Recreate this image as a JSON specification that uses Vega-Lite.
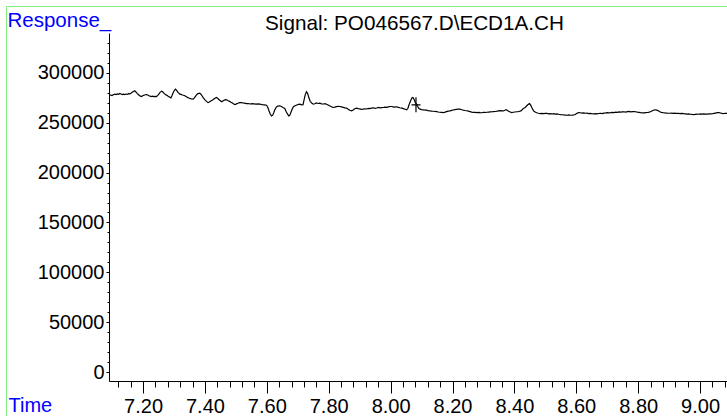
{
  "$schema": "https://vega.github.io/schema/vega-lite/v6.json",
  "width": 618,
  "height": 348,
  "autosize": "none",
  "padding": {"left": 109, "top": 33, "right": 0, "bottom": 35},
  "background": "white",
  "datasets": {
    "sig": [
      {"t":7.090,"v":277500},{"t":7.096,"v":277800},{"t":7.100,"v":277200},{"t":7.104,"v":278000},{"t":7.109,"v":278700},{"t":7.113,"v":278200},{"t":7.117,"v":279000},{"t":7.121,"v":278600},{"t":7.125,"v":279400},{"t":7.129,"v":278900},{"t":7.133,"v":278300},{"t":7.137,"v":278700},{"t":7.141,"v":278300},{"t":7.145,"v":278800},{"t":7.149,"v":278400},{"t":7.153,"v":279200},{"t":7.157,"v":279000},{"t":7.161,"v":279600},{"t":7.165,"v":280500},{"t":7.169,"v":281400},{"t":7.173,"v":282000},{"t":7.177,"v":280900},{"t":7.181,"v":279500},{"t":7.184,"v":278600},{"t":7.188,"v":277400},{"t":7.192,"v":276700},{"t":7.195,"v":276300},{"t":7.199,"v":277000},{"t":7.203,"v":277600},{"t":7.207,"v":278100},{"t":7.211,"v":278300},{"t":7.215,"v":277800},{"t":7.219,"v":277100},{"t":7.223,"v":276700},{"t":7.227,"v":276300},{"t":7.231,"v":276600},{"t":7.235,"v":276200},{"t":7.239,"v":276500},{"t":7.243,"v":276300},{"t":7.247,"v":277200},{"t":7.251,"v":278800},{"t":7.255,"v":280500},{"t":7.260,"v":281700},{"t":7.264,"v":280800},{"t":7.268,"v":279400},{"t":7.272,"v":278400},{"t":7.276,"v":277700},{"t":7.280,"v":276800},{"t":7.285,"v":275900},{"t":7.290,"v":275000},{"t":7.294,"v":277500},{"t":7.298,"v":280500},{"t":7.302,"v":282800},{"t":7.305,"v":283700},{"t":7.309,"v":282300},{"t":7.313,"v":280500},{"t":7.319,"v":278700},{"t":7.323,"v":278400},{"t":7.327,"v":277800},{"t":7.331,"v":277600},{"t":7.335,"v":277000},{"t":7.340,"v":276000},{"t":7.345,"v":275200},{"t":7.350,"v":274600},{"t":7.356,"v":274000},{"t":7.362,"v":273600},{"t":7.366,"v":275000},{"t":7.371,"v":277200},{"t":7.376,"v":279000},{"t":7.383,"v":279700},{"t":7.387,"v":278600},{"t":7.391,"v":276800},{"t":7.395,"v":274900},{"t":7.400,"v":273000},{"t":7.405,"v":271400},{"t":7.410,"v":270200},{"t":7.414,"v":270800},{"t":7.419,"v":271900},{"t":7.426,"v":273000},{"t":7.430,"v":274100},{"t":7.437,"v":275300},{"t":7.441,"v":274500},{"t":7.446,"v":273100},{"t":7.451,"v":271800},{"t":7.454,"v":271000},{"t":7.458,"v":271800},{"t":7.462,"v":272500},{"t":7.466,"v":273200},{"t":7.470,"v":273000},{"t":7.475,"v":272100},{"t":7.480,"v":271400},{"t":7.484,"v":270600},{"t":7.489,"v":269700},{"t":7.493,"v":268800},{"t":7.497,"v":268300},{"t":7.502,"v":268900},{"t":7.507,"v":269500},{"t":7.512,"v":270100},{"t":7.518,"v":270200},{"t":7.523,"v":269800},{"t":7.528,"v":269600},{"t":7.534,"v":269100},{"t":7.540,"v":269300},{"t":7.546,"v":268800},{"t":7.552,"v":269100},{"t":7.558,"v":268900},{"t":7.565,"v":268700},{"t":7.572,"v":269000},{"t":7.578,"v":268600},{"t":7.585,"v":268200},{"t":7.592,"v":267900},{"t":7.599,"v":267600},{"t":7.603,"v":265500},{"t":7.607,"v":262000},{"t":7.611,"v":258800},{"t":7.615,"v":256800},{"t":7.619,"v":257600},{"t":7.623,"v":260500},{"t":7.626,"v":263000},{"t":7.630,"v":265400},{"t":7.635,"v":266700},{"t":7.642,"v":267000},{"t":7.647,"v":266200},{"t":7.652,"v":265300},{"t":7.658,"v":264300},{"t":7.662,"v":261500},{"t":7.667,"v":258600},{"t":7.671,"v":256800},{"t":7.674,"v":257400},{"t":7.678,"v":260500},{"t":7.682,"v":263800},{"t":7.686,"v":266000},{"t":7.691,"v":267000},{"t":7.697,"v":267800},{"t":7.702,"v":268400},{"t":7.707,"v":268600},{"t":7.712,"v":268000},{"t":7.717,"v":268200},{"t":7.720,"v":272500},{"t":7.724,"v":278000},{"t":7.728,"v":281000},{"t":7.732,"v":279200},{"t":7.736,"v":275000},{"t":7.740,"v":271500},{"t":7.745,"v":269800},{"t":7.750,"v":268600},{"t":7.755,"v":269100},{"t":7.760,"v":269800},{"t":7.766,"v":269300},{"t":7.771,"v":269600},{"t":7.777,"v":269000},{"t":7.783,"v":268800},{"t":7.788,"v":269100},{"t":7.793,"v":268600},{"t":7.798,"v":267800},{"t":7.804,"v":266800},{"t":7.809,"v":266000},{"t":7.814,"v":265300},{"t":7.820,"v":265600},{"t":7.825,"v":266100},{"t":7.830,"v":266500},{"t":7.836,"v":266300},{"t":7.841,"v":265900},{"t":7.847,"v":265400},{"t":7.852,"v":264900},{"t":7.858,"v":264700},{"t":7.863,"v":263500},{"t":7.868,"v":262500},{"t":7.874,"v":261900},{"t":7.879,"v":262800},{"t":7.884,"v":264100},{"t":7.890,"v":264600},{"t":7.895,"v":264200},{"t":7.900,"v":263900},{"t":7.906,"v":263400},{"t":7.911,"v":263600},{"t":7.917,"v":264000},{"t":7.922,"v":263800},{"t":7.928,"v":264400},{"t":7.933,"v":264200},{"t":7.938,"v":264700},{"t":7.944,"v":265000},{"t":7.950,"v":264500},{"t":7.955,"v":264800},{"t":7.960,"v":265300},{"t":7.966,"v":264900},{"t":7.971,"v":265200},{"t":7.976,"v":265300},{"t":7.982,"v":265700},{"t":7.987,"v":265400},{"t":7.993,"v":265900},{"t":7.998,"v":266300},{"t":8.003,"v":266300},{"t":8.008,"v":266000},{"t":8.014,"v":265600},{"t":8.020,"v":266000},{"t":8.025,"v":265400},{"t":8.030,"v":265000},{"t":8.036,"v":264600},{"t":8.041,"v":264100},{"t":8.047,"v":263500},{"t":8.052,"v":263000},{"t":8.056,"v":264500},{"t":8.059,"v":267500},{"t":8.062,"v":270000},{"t":8.066,"v":273000},{"t":8.070,"v":275300},{"t":8.073,"v":275000},{"t":8.077,"v":272500},{"t":8.080,"v":270000},{"t":8.084,"v":268600},{"t":8.087,"v":266500},{"t":8.091,"v":264500},{"t":8.095,"v":263600},{"t":8.100,"v":263200},{"t":8.106,"v":263000},{"t":8.112,"v":262600},{"t":8.116,"v":262600},{"t":8.121,"v":262100},{"t":8.127,"v":262000},{"t":8.132,"v":261700},{"t":8.138,"v":261500},{"t":8.143,"v":261300},{"t":8.149,"v":261200},{"t":8.154,"v":260800},{"t":8.159,"v":260500},{"t":8.165,"v":260400},{"t":8.170,"v":260200},{"t":8.176,"v":260700},{"t":8.181,"v":261200},{"t":8.186,"v":261600},{"t":8.192,"v":261900},{"t":8.197,"v":262400},{"t":8.202,"v":262800},{"t":8.208,"v":263200},{"t":8.213,"v":263500},{"t":8.219,"v":263700},{"t":8.224,"v":263600},{"t":8.230,"v":263000},{"t":8.235,"v":262600},{"t":8.240,"v":262300},{"t":8.246,"v":262000},{"t":8.251,"v":261600},{"t":8.257,"v":261100},{"t":8.262,"v":260700},{"t":8.268,"v":260400},{"t":8.273,"v":260300},{"t":8.279,"v":260200},{"t":8.284,"v":260400},{"t":8.290,"v":260100},{"t":8.295,"v":260000},{"t":8.300,"v":260300},{"t":8.306,"v":260300},{"t":8.311,"v":260500},{"t":8.317,"v":260700},{"t":8.322,"v":260900},{"t":8.328,"v":261000},{"t":8.333,"v":261200},{"t":8.338,"v":261300},{"t":8.344,"v":261600},{"t":8.349,"v":261900},{"t":8.355,"v":262100},{"t":8.360,"v":262000},{"t":8.364,"v":262000},{"t":8.368,"v":262300},{"t":8.372,"v":263000},{"t":8.375,"v":263000},{"t":8.380,"v":261800},{"t":8.385,"v":261000},{"t":8.391,"v":260200},{"t":8.396,"v":260500},{"t":8.402,"v":260800},{"t":8.407,"v":261000},{"t":8.412,"v":261000},{"t":8.417,"v":261500},{"t":8.421,"v":261900},{"t":8.425,"v":263000},{"t":8.430,"v":264600},{"t":8.435,"v":265300},{"t":8.440,"v":267000},{"t":8.445,"v":268500},{"t":8.449,"v":269300},{"t":8.453,"v":267500},{"t":8.457,"v":264700},{"t":8.462,"v":261900},{"t":8.467,"v":260700},{"t":8.472,"v":260000},{"t":8.478,"v":259500},{"t":8.483,"v":259200},{"t":8.489,"v":259400},{"t":8.494,"v":259100},{"t":8.500,"v":259300},{"t":8.505,"v":259400},{"t":8.511,"v":259000},{"t":8.516,"v":259200},{"t":8.522,"v":258800},{"t":8.527,"v":259100},{"t":8.533,"v":258700},{"t":8.538,"v":258900},{"t":8.543,"v":258500},{"t":8.549,"v":258200},{"t":8.554,"v":258000},{"t":8.560,"v":257800},{"t":8.565,"v":257700},{"t":8.570,"v":257500},{"t":8.576,"v":257800},{"t":8.581,"v":257500},{"t":8.587,"v":257600},{"t":8.592,"v":257900},{"t":8.597,"v":258300},{"t":8.602,"v":259500},{"t":8.608,"v":260200},{"t":8.613,"v":260000},{"t":8.619,"v":259700},{"t":8.624,"v":259900},{"t":8.630,"v":259500},{"t":8.635,"v":259600},{"t":8.640,"v":259200},{"t":8.646,"v":259400},{"t":8.651,"v":259000},{"t":8.657,"v":258900},{"t":8.662,"v":259100},{"t":8.667,"v":258900},{"t":8.673,"v":259300},{"t":8.678,"v":259500},{"t":8.684,"v":259200},{"t":8.689,"v":259700},{"t":8.695,"v":259900},{"t":8.700,"v":260200},{"t":8.705,"v":259900},{"t":8.711,"v":260100},{"t":8.716,"v":260400},{"t":8.722,"v":260200},{"t":8.727,"v":260600},{"t":8.732,"v":260500},{"t":8.738,"v":260800},{"t":8.743,"v":260600},{"t":8.749,"v":260900},{"t":8.754,"v":261000},{"t":8.760,"v":260700},{"t":8.765,"v":261100},{"t":8.771,"v":261300},{"t":8.776,"v":261000},{"t":8.781,"v":261200},{"t":8.786,"v":261200},{"t":8.792,"v":261000},{"t":8.797,"v":260700},{"t":8.803,"v":260400},{"t":8.808,"v":260100},{"t":8.814,"v":259900},{"t":8.819,"v":259900},{"t":8.825,"v":260100},{"t":8.830,"v":260300},{"t":8.836,"v":260600},{"t":8.841,"v":261200},{"t":8.846,"v":262100},{"t":8.851,"v":262800},{"t":8.855,"v":263000},{"t":8.860,"v":262700},{"t":8.865,"v":262000},{"t":8.870,"v":261000},{"t":8.875,"v":260400},{"t":8.881,"v":260000},{"t":8.886,"v":259800},{"t":8.892,"v":259700},{"t":8.897,"v":259500},{"t":8.903,"v":259500},{"t":8.908,"v":259700},{"t":8.914,"v":259400},{"t":8.919,"v":259600},{"t":8.924,"v":259300},{"t":8.930,"v":259500},{"t":8.935,"v":259200},{"t":8.941,"v":259400},{"t":8.947,"v":259100},{"t":8.952,"v":258900},{"t":8.958,"v":258700},{"t":8.963,"v":258900},{"t":8.968,"v":258500},{"t":8.974,"v":258300},{"t":8.980,"v":258200},{"t":8.985,"v":258400},{"t":8.990,"v":258600},{"t":8.996,"v":258500},{"t":9.001,"v":258800},{"t":9.007,"v":258600},{"t":9.012,"v":258900},{"t":9.018,"v":258700},{"t":9.023,"v":258600},{"t":9.029,"v":258900},{"t":9.034,"v":258800},{"t":9.040,"v":259000},{"t":9.045,"v":259400},{"t":9.050,"v":259700},{"t":9.056,"v":260100},{"t":9.061,"v":260200},{"t":9.066,"v":259800},{"t":9.071,"v":259400},{"t":9.076,"v":259200},{"t":9.081,"v":259500},{"t":9.087,"v":259300}
    ],
    "mk": [
      {"t": 8.082, "v": 268000}
    ]
  },
  "layer": [
    {
      "data": {"name": "sig"},
      "mark": {"type": "line", "color": "black", "strokeWidth": 1.2},
      "encoding": {
        "x": {
          "field": "t", "type": "quantitative",
          "scale": {"domain": [7.09, 9.087], "nice": false, "zero": false},
          "axis": {
            "orient": "bottom",
            "values": [7.2, 7.4, 7.6, 7.8, 8.0, 8.2, 8.4, 8.6, 8.8, 9.0],
            "format": ".2f", "tickSize": 12, "labelPadding": 3,
            "labelFlush": false, "labelOverlap": false,
            "title": "Time", "titleColor": "#0000FF",
            "titleX": -101, "titleY": 30, "titleAlign": "left", "titleBaseline": "alphabetic"
          }
        },
        "y": {
          "field": "v", "type": "quantitative",
          "scale": {"domain": [-9000, 340000], "nice": false, "zero": false},
          "axis": {
            "orient": "left",
            "values": [0, 50000, 100000, 150000, 200000, 250000, 300000],
            "format": "d", "tickSize": 3, "labelPadding": 2, "labelOverlap": false,
            "title": "Response_", "titleColor": "#0000FF", "titleAngle": 0, "titleFontSize": 20.5,
            "titleX": -102, "titleY": -7, "titleAlign": "left", "titleBaseline": "alphabetic"
          }
        }
      }
    },
    {
      "data": {"name": "mk"},
      "mark": {"type": "point", "shape": "M-0.6,0H0.6M0,-1V1", "size": 225, "filled": false, "stroke": "black", "strokeWidth": 1.2, "opacity": 1},
      "encoding": {
        "x": {
          "field": "t", "type": "quantitative",
          "axis": {
            "orient": "bottom",
            "values": [7.12,7.16,7.2,7.24,7.28,7.32,7.36,7.4,7.44,7.48,7.52,7.56,7.6,7.64,7.68,7.72,7.76,7.8,7.84,7.88,7.92,7.96,8,8.04,8.08,8.12,8.16,8.2,8.24,8.28,8.32,8.36,8.4,8.44,8.48,8.52,8.56,8.6,8.64,8.68,8.72,8.76,8.8,8.84,8.88,8.92,8.96,9,9.04,9.08],
            "tickSize": 6, "labels": false, "domain": false, "title": null
          }
        },
        "y": {
          "field": "v", "type": "quantitative",
          "axis": {
            "orient": "left",
            "values": [10000,20000,30000,40000,60000,70000,80000,90000,110000,120000,130000,140000,160000,170000,180000,190000,210000,220000,230000,240000,260000,270000,280000,290000,310000,320000,330000],
            "tickSize": 2, "labels": false, "domain": false, "title": null
          }
        }
      }
    },
    {
      "data": {"name": "mk"},
      "mark": {"type": "point", "opacity": 0},
      "encoding": {
        "x": {
          "field": "t", "type": "quantitative",
          "axis": {
            "orient": "top", "domain": false, "ticks": false, "labels": false,
            "title": "Signal: PO046567.D\\ECD1A.CH", "titleColor": "black", "titleFontSize": 20.7,
            "titleX": 305, "titleY": -4, "titleAlign": "center", "titleBaseline": "alphabetic"
          }
        },
        "y": {"field": "v", "type": "quantitative", "axis": null},
        "color": {
          "field": "v", "type": "quantitative",
          "scale": {"domain": [0, 400000], "range": ["transparent", "transparent"]},
          "legend": {
            "orient": "none", "legendX": -103, "legendY": -27, "direction": "vertical",
            "gradientLength": 430, "gradientThickness": 740, "gradientStrokeWidth": 0,
            "padding": 0, "strokeColor": "#80F080", "title": null,
            "labelExpr": "''", "labelOpacity": 0
          }
        }
      }
    }
  ],
  "resolve": {"axis": {"x": "independent", "y": "independent"}},
  "config": {
    "font": "Liberation Sans",
    "view": {"stroke": null},
    "axis": {
      "grid": false, "domainColor": "black", "tickColor": "black", "labelColor": "black",
      "labelFontSize": 20, "labelFont": "Liberation Sans",
      "titleFont": "Liberation Sans", "titleFontSize": 20, "titleFontWeight": "normal",
      "domainWidth": 1, "tickWidth": 1
    }
  }
}
